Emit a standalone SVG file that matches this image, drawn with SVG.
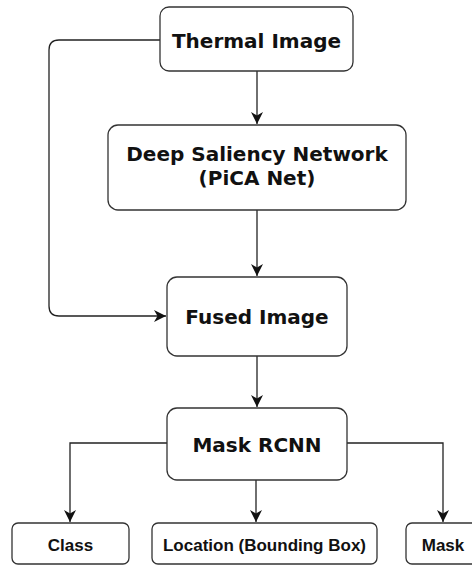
<svg xmlns="http://www.w3.org/2000/svg" width="472" height="565" viewBox="0 0 472 565">
<style>
.box{fill:#fff;stroke:#333;stroke-width:1.3}
.t{font-family:"DejaVu Sans",Verdana,sans-serif;font-weight:bold;font-size:20px;fill:#111;text-anchor:middle}
.s{font-family:"Liberation Sans",Arial,sans-serif;font-weight:bold;font-size:17px;fill:#111;text-anchor:middle}
.c{fill:none;stroke:#222;stroke-width:1.3}
</style>
<defs>
<marker id="ah" viewBox="0 0 12 12" refX="12" refY="6" markerWidth="12" markerHeight="12" markerUnits="userSpaceOnUse" orient="auto">
<path d="M0,0 L12,6 L0,12 L3.5,6 Z" fill="#111"/>
</marker>
</defs>
<rect width="472" height="565" fill="#fff"/>
<g id="connectors">
<path class="c" d="M257,71 V124" marker-end="url(#ah)"/>
<path class="c" d="M160,40 H59 Q49,40 49,50 V306 Q49,316 59,316 H166" marker-end="url(#ah)"/>
<path class="c" d="M257,210 V276" marker-end="url(#ah)"/>
<path class="c" d="M257,356 V407" marker-end="url(#ah)"/>
<path class="c" d="M167,443 H70 V522" marker-end="url(#ah)"/>
<path class="c" d="M256,480 V522" marker-end="url(#ah)"/>
<path class="c" d="M347,443 H443 V522" marker-end="url(#ah)"/>
</g>
<g id="thermal">
<rect class="box" x="160" y="7" width="193" height="64" rx="9"/>
<text class="t" x="256.5" y="48">Thermal Image</text>
</g>
<g id="deep">
<rect class="box" x="108" y="125" width="298" height="85" rx="10"/>
<text class="t" x="257" y="161">Deep Saliency Network</text>
<text class="t" x="257" y="185">(PiCA Net)</text>
</g>
<g id="fused">
<rect class="box" x="167" y="277" width="180" height="79" rx="10"/>
<text class="t" x="257" y="324">Fused Image</text>
</g>
<g id="mask-rcnn">
<rect class="box" x="167" y="408" width="180" height="72" rx="10"/>
<text class="t" x="257" y="452">Mask RCNN</text>
</g>
<g id="class">
<rect class="box" x="12" y="523" width="117" height="41" rx="6"/>
<text class="s" x="70.5" y="551">Class</text>
</g>
<g id="location">
<rect class="box" x="152" y="523" width="225" height="41" rx="6"/>
<text class="s" x="264.5" y="551">Location (Bounding Box)</text>
</g>
<g id="mask">
<rect class="box" x="406" y="523" width="74" height="41" rx="6"/>
<text class="s" x="443" y="551">Mask</text>
</g>
</svg>
